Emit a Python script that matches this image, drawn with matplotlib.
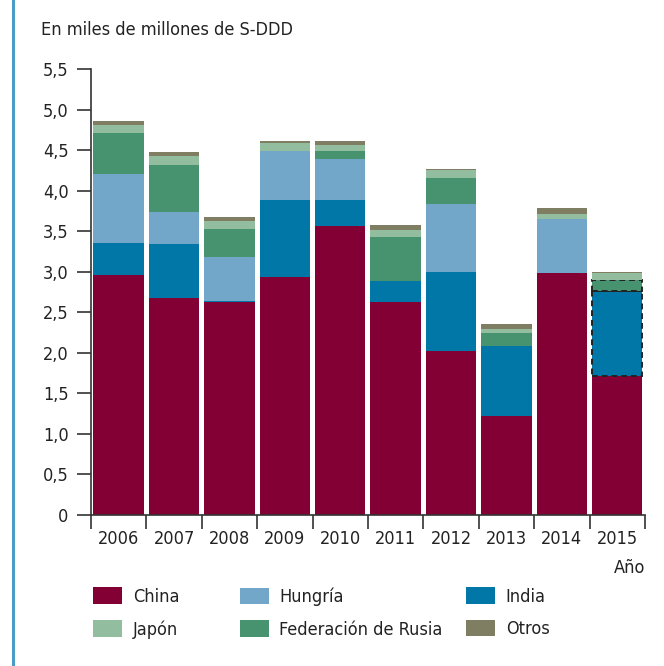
import matplotlib.pyplot as plt
from matplotlib.patches import Patch
import numpy as np

years = ['2006', '2007', '2008', '2009', '2010', '2011', '2012', '2013', '2014', '2015']

# values in miles de millones de S-DDD, stacked bottom to top
china = [2.96, 2.67, 2.63, 2.94, 3.56, 2.63, 2.02, 1.22, 2.99, 1.71]
india = [0.40, 0.67, 0.01, 0.94, 0.33, 0.26, 0.98, 0.86, 0.00, 1.05]
hungria = [0.84, 0.40, 0.54, 0.61, 0.50, 0.00, 0.84, 0.00, 0.66, 0.00]
rusia = [0.51, 0.58, 0.35, 0.00, 0.10, 0.54, 0.31, 0.16, 0.00, 0.14]
japon = [0.10, 0.11, 0.10, 0.10, 0.075, 0.09, 0.10, 0.06, 0.06, 0.08]
otros = [0.05, 0.05, 0.05, 0.025, 0.05, 0.06, 0.012, 0.06, 0.074, 0.02]

series = [
    ('China', china, '#820033'),
    ('India', india, '#0077a7'),
    ('Hungría', hungria, '#73a7c9'),
    ('Federación de Rusia', rusia, '#479370'),
    ('Japón', japon, '#93bd9f'),
    ('Otros', otros, '#7f7d62'),
]
# estimated segments in the last year (dashed outline)
dashed = {'India': [9], 'Federación de Rusia': [9]}

plt.rcParams['font.family'] = ['DejaVu Sans']
plt.rcParams['font.stretch'] = 'condensed'
txt = '#222222'

fig = plt.figure(figsize=(6.64, 6.66), dpi=100)
ax = fig.add_axes([0.137, 0.2267, 0.8343, 0.6697])

x = np.arange(len(years))
bottom = np.zeros(len(years))
for name, vals, col in series:
    vals = np.array(vals)
    bars = ax.bar(x, vals, 0.91, bottom=bottom, color=col, linewidth=0)
    for i in dashed.get(name, []):
        b = bars[i]
        ax.bar(b.get_x() + b.get_width() / 2, vals[i], 0.91, bottom=bottom[i],
               color='none', edgecolor='#222222', linestyle=(0, (3, 2)),
               linewidth=1.4)
    bottom += vals

ax.set_xlim(-0.5, 9.5)
ax.set_ylim(0, 5.5)
ax.set_yticks(np.arange(0, 5.51, 0.5))
ax.set_yticklabels(['0'] + [f'{v:.1f}'.replace('.', ',') for v in np.arange(0.5, 5.51, 0.5)])
ax.set_xticks(x)
ax.set_xticklabels(years)
ax.set_xticks(np.arange(-0.5, 10, 1), minor=True)
ax.tick_params(axis='x', which='major', length=0, pad=11, labelsize=13, labelcolor=txt)
ax.tick_params(axis='x', which='minor', length=10, width=1.2, color='#333333', direction='out')
ax.tick_params(axis='y', length=10, width=1.2, color='#333333', pad=6, labelsize=13, labelcolor=txt)

for s in ['top', 'right']:
    ax.spines[s].set_visible(False)
for s in ['left', 'bottom']:
    ax.spines[s].set_color('#333333')
    ax.spines[s].set_linewidth(1.2)

fig.text(0.061, 0.955, 'En miles de millones de S-DDD', fontsize=13, color=txt, va='center')
fig.text(0.9714, 0.147, 'Año', fontsize=13, color=txt, ha='right', va='center')

# left border line
fig.add_artist(plt.Line2D([0.0195, 0.0195], [0, 1], color='#4a9cc4', linewidth=2.2))

colors = {n: c for n, _, c in series}
legend_cols = [
    (0.140, ['China', 'Japón']),
    (0.361, ['Hungría', 'Federación de Rusia']),
    (0.702, ['India', 'Otros']),
]
for xpos, names in legend_cols:
    handles = [Patch(facecolor=colors[n], edgecolor='none') for n in names]
    leg = fig.legend(handles, names, loc='upper left', bbox_to_anchor=(xpos, 0.118),
                     frameon=False, fontsize=13, handlelength=1.6, handleheight=1.0,
                     labelspacing=0.8, handletextpad=0.6, borderpad=0, borderaxespad=0)
    for t in leg.get_texts():
        t.set_color(txt)

fig.savefig('out.png', dpi=100)
